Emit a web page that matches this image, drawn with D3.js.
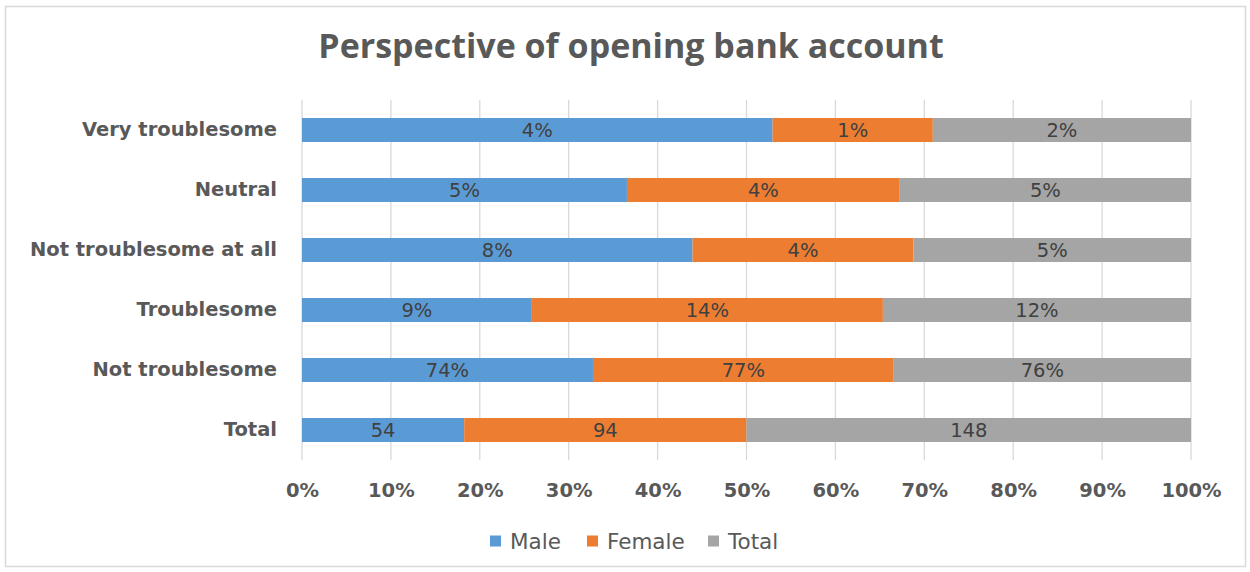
<!DOCTYPE html>
<html>
<head>
<meta charset="utf-8">
<script src="https://cdn.jsdelivr.net/npm/d3@7"></script>
<style>
  html, body { margin: 0; padding: 0; background: #fff; }
  svg { display: block; }
</style>
</head>
<body>
<svg id="chart" width="1250" height="572"></svg>
<script>
// Survey answers, top row first; shares are percent of each group, last row is head counts
const categories = ["Very troublesome", "Neutral", "Not troublesome at all", "Troublesome", "Not troublesome", "Total"];
const seriesNames = ["Male", "Female", "Total"];
const maleValues   = [3.7, 5.3, 7.6, 9.1, 74.1, 54];
const femaleValues = [1.26, 4.45, 4.3, 13.9, 76.6, 94];
const totalValues  = [2.03, 4.75, 5.4, 12.2, 75.7, 148];
const countRow = "Total";
const tickValues = [0, 0.1, 0.2, 0.3, 0.4, 0.5, 0.6, 0.7, 0.8, 0.9, 1.0];
const colors = ["#5B9BD5", "#ED7D31", "#A5A5A5"];

const svg = d3.select("#chart");
const W = 1250, H = 572;
const margin = { left: 302, right: 59, top: 100, bottom: 112 };
const titleFont = "'Open Sans', sans-serif";
const font = "'DejaVu Sans', Verdana, sans-serif";

// outer frame
svg.append("rect")
  .attr("x", 5.5).attr("y", 6.5)
  .attr("width", W - 10).attr("height", H - 12)
  .attr("fill", "#fff").attr("stroke", "#d9d9d9").attr("stroke-width", 1.5);

// build rows and stack them as shares of each row's sum
const rows = categories.map((c, i) => ({
  category: c, Male: maleValues[i], Female: femaleValues[i], Total: totalValues[i]
}));
const stack = d3.stack().keys(seriesNames).offset(d3.stackOffsetExpand);
const layers = stack(rows);

const x = d3.scaleLinear().domain([0, 1]).range([margin.left, W - margin.right]);
const y = d3.scaleBand().domain(categories)
  .range([margin.top, H - margin.bottom])
  .paddingInner(0.6).paddingOuter(0.3);
const color = d3.scaleOrdinal().domain(seriesNames).range(colors);

// vertical gridlines
svg.append("g")
  .selectAll("line")
  .data(tickValues)
  .join("line")
  .attr("x1", d => x(d)).attr("x2", d => x(d))
  .attr("y1", margin.top).attr("y2", H - margin.bottom)
  .attr("stroke", "#d9d9d9").attr("stroke-width", 1.3);

// x axis tick labels
const xAxis = d3.axisBottom(x).tickValues(tickValues).tickFormat(d3.format(".0%")).tickSize(0).tickPadding(0);
const gx = svg.append("g")
  .attr("transform", `translate(0,${H - margin.bottom + 37})`)
  .call(xAxis);
gx.select(".domain").remove();
gx.selectAll("text")
  .attr("dy", 0)
  .attr("font-family", font).attr("font-size", 19.5).attr("font-weight", 700)
  .attr("fill", "#595959");

// y axis category labels
const yAxis = d3.axisLeft(y).tickSize(0).tickPadding(25);
const gy = svg.append("g")
  .attr("transform", `translate(${margin.left},0)`)
  .call(yAxis);
gy.select(".domain").remove();
gy.selectAll("text")
  .attr("font-family", font).attr("font-size", 19.5).attr("font-weight", 700)
  .attr("fill", "#595959");

// stacked bars
const groups = svg.append("g")
  .selectAll("g")
  .data(layers)
  .join("g")
  .attr("fill", d => color(d.key));

groups.selectAll("rect")
  .data(d => d.map(p => ({ p, key: d.key })))
  .join("rect")
  .attr("x", d => x(d.p[0]))
  .attr("width", d => x(d.p[1]) - x(d.p[0]))
  .attr("y", d => y(d.p.data.category))
  .attr("height", y.bandwidth());

// value labels centred in each segment
groups.selectAll("text")
  .data(d => d.map(p => ({ p, key: d.key })))
  .join("text")
  .attr("x", d => (x(d.p[0]) + x(d.p[1])) / 2)
  .attr("y", d => y(d.p.data.category) + y.bandwidth() / 2)
  .attr("dy", "0.36em")
  .attr("text-anchor", "middle")
  .attr("font-family", font).attr("font-size", 19.5)
  .attr("fill", "#404040")
  .text(d => {
    const v = d.p.data[d.key];
    return d.p.data.category === countRow ? d3.format("d")(v) : Math.round(v) + "%";
  });

// title
svg.append("text")
  .attr("x", 631).attr("y", 58)
  .attr("text-anchor", "middle")
  .attr("font-family", titleFont).attr("font-size", 34).attr("font-weight", 700)
  .attr("fill", "#595959")
  .text("Perspective of opening bank account");

// legend
const legendX = [490, 587, 708];
const legend = svg.append("g")
  .selectAll("g")
  .data(seriesNames)
  .join("g")
  .attr("transform", (d, i) => `translate(${legendX[i]},541)`);
legend.append("rect")
  .attr("x", 0).attr("y", -5.5).attr("width", 11).attr("height", 11)
  .attr("fill", d => color(d));
legend.append("text")
  .attr("x", 20).attr("y", 0).attr("dy", "0.36em")
  .attr("font-family", font).attr("font-size", 21.5)
  .attr("fill", "#595959")
  .text(d => d);
</script>
</body>
</html>
